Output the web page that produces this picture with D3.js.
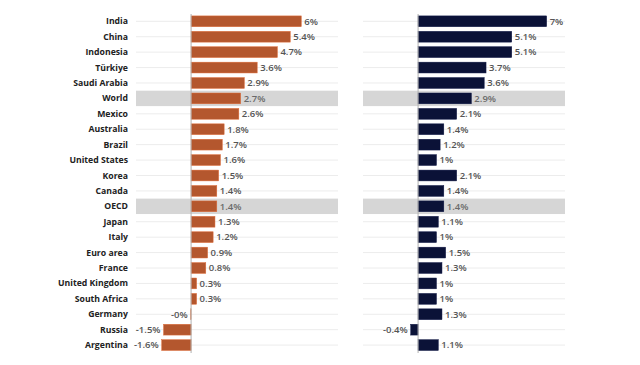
<!DOCTYPE html>
<html>
<head>
<meta charset="utf-8">
<script src="https://cdn.jsdelivr.net/npm/d3@7"></script>
<style>
  body { margin: 0; background: #fff; }
  text { font-family: "Open Sans", sans-serif; }
</style>
</head>
<body>
<div id="container"></div>
<script>
let w = 640;
let h = 365;

// data
let countries = ["India", "China", "Indonesia", "Türkiye", "Saudi Arabia", "World", "Mexico",
  "Australia", "Brazil", "United States", "Korea", "Canada", "OECD", "Japan", "Italy",
  "Euro area", "France", "United Kingdom", "South Africa", "Germany", "Russia", "Argentina"];
let leftValues = [6, 5.4, 4.7, 3.6, 2.9, 2.7, 2.6, 1.8, 1.7, 1.6, 1.5, 1.4, 1.4, 1.3, 1.2,
  0.9, 0.8, 0.3, 0.3, -0.02, -1.5, -1.6];
let leftLabels = ["6%", "5.4%", "4.7%", "3.6%", "2.9%", "2.7%", "2.6%", "1.8%", "1.7%", "1.6%",
  "1.5%", "1.4%", "1.4%", "1.3%", "1.2%", "0.9%", "0.8%", "0.3%", "0.3%", "-0%", "-1.5%", "-1.6%"];
let rightValues = [7, 5.1, 5.1, 3.7, 3.6, 2.9, 2.1, 1.4, 1.2, 1, 2.1, 1.4, 1.4, 1.1, 1,
  1.5, 1.3, 1, 1, 1.3, -0.4, 1.1];
let rightLabels = ["7%", "5.1%", "5.1%", "3.7%", "3.6%", "2.9%", "2.1%", "1.4%", "1.2%", "1%",
  "2.1%", "1.4%", "1.4%", "1.1%", "1%", "1.5%", "1.3%", "1%", "1%", "1.3%", "-0.4%", "1.1%"];
let highlighted = ["World", "OECD"];

let viz = d3.select("#container")
  .append("svg")
    .attr("width", w)
    .attr("height", h)
    .style("background-color", "white");

let yScale = d3.scaleBand().domain(countries).range([13.6, 352.8]).paddingInner(0.3).paddingOuter(0.15);

function drawPanel(x0, x1, values, labels, color, showNames) {
  let xScale = d3.scaleLinear().domain([-3, 8]).range([x0, x1]);
  let g = viz.append("g");
  let step = yScale.step();

  // gridlines
  g.selectAll(".grid").data(countries).enter().append("line")
    .attr("x1", x0).attr("x2", x1)
    .attr("y1", d => yScale(d) + yScale.bandwidth() / 2)
    .attr("y2", d => yScale(d) + yScale.bandwidth() / 2)
    .attr("stroke", "#ececec").attr("stroke-width", 1);

  // highlight rows
  g.selectAll(".hl").data(highlighted).enter().append("rect")
    .attr("x", x0).attr("width", x1 - x0)
    .attr("y", d => yScale(d) + yScale.bandwidth() / 2 - step / 2)
    .attr("height", step)
    .attr("fill", "#d6d6d6");

  // bars
  g.selectAll(".bar").data(values).enter().append("rect")
    .attr("x", d => xScale(Math.min(0, d)))
    .attr("y", (d, i) => yScale(countries[i]))
    .attr("width", d => Math.abs(xScale(d) - xScale(0)))
    .attr("height", yScale.bandwidth())
    .attr("fill", color)
    .attr("stroke", d3.color(color).brighter(0.6))
    .attr("stroke-width", 0.5);

  // zero line
  g.append("line")
    .attr("x1", xScale(0)).attr("x2", xScale(0))
    .attr("y1", 14).attr("y2", 353)
    .attr("stroke", "#b0b0b0").attr("stroke-width", 1);

  // value labels
  g.selectAll(".val").data(values).enter().append("text")
    .attr("x", d => d < 0 ? xScale(d) - 3 : xScale(d) + 3)
    .attr("y", (d, i) => yScale(countries[i]) + yScale.bandwidth() / 2)
    .attr("dy", "0.35em")
    .attr("text-anchor", d => d < 0 ? "end" : "start")
    .attr("font-size", "9.5px")
    .attr("font-weight", 600)
    .attr("fill", (d, i) => highlighted.includes(countries[i]) ? "#6a6a6a" : "#555")
    .text((d, i) => labels[i]);

  if (showNames) {
    g.selectAll(".name").data(countries).enter().append("text")
      .attr("x", 128)
      .attr("y", d => yScale(d) + yScale.bandwidth() / 2)
      .attr("dy", "0.35em")
      .attr("text-anchor", "end")
      .attr("font-size", "8.7px")
      .attr("font-weight", 700)
      .attr("fill", "#222")
      .text(d => d);
  }
}

drawPanel(136, 338, leftValues, leftLabels, "#b4572e", true);
drawPanel(363, 565, rightValues, rightLabels, "#0b1237", false);
</script>
</body>
</html>
